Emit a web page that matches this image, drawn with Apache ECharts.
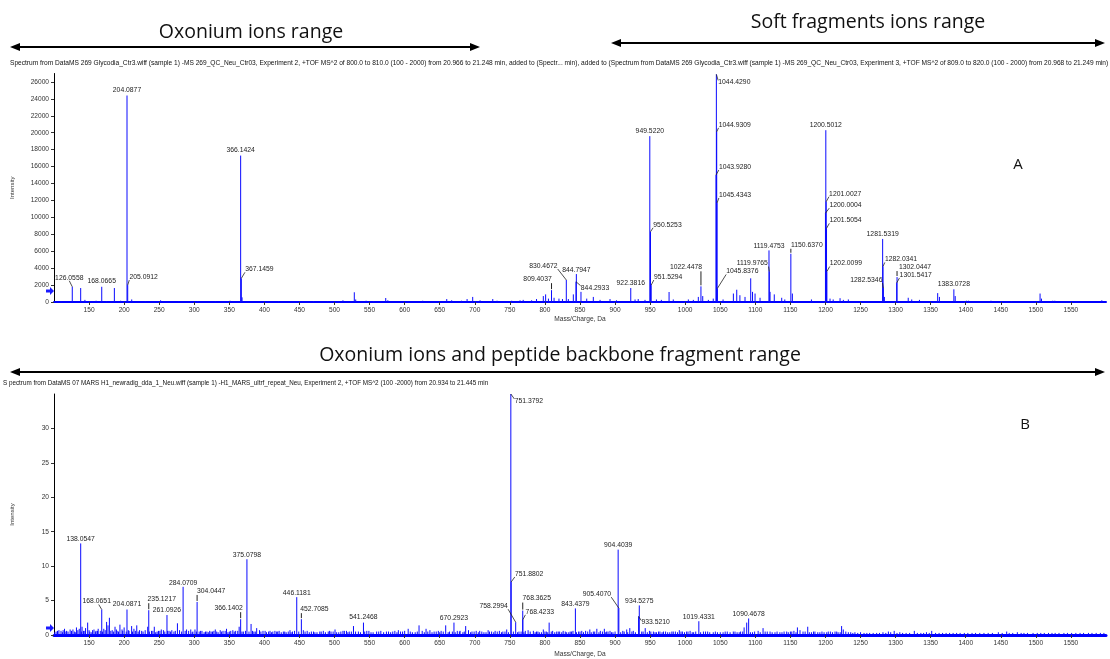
<!DOCTYPE html>
<html><head><meta charset="utf-8">
<script src="https://cdn.jsdelivr.net/npm/echarts@6/dist/echarts.min.js"></script>
<style>html,body{margin:0;padding:0;background:#fff}#c{width:1110px;height:659px}</style>
</head><body><div id="c"></div>
<script>
// ---------- DATA ----------
// Panel A: unlabeled peaks [m/z, intensity]
const topPeaks = [[110,100],[138.05,1650],[144.07,250],[160,150],[175,100],[186.08,1650],[195,150],[210.8,300],[230,100],[252,200],[278,100],[305,80],[330,100],[351,150],[368.15,550],[400,80],[420,100],[450,80],[470,100],[490,80],[512,200],[528.19,1150],[530.2,300],[545,150],[556,120],[573,470],[576,200],[625.7,150],[660,350],[667,200],[681,150],[689,350],[697,600],[707.5,200],[725.6,350],[731.7,150],[752.6,150],[764.5,200],[769,250],[781,200],[788,350],[797.7,700],[801,900],[805,400],[813,500],[820,400],[825,350],[833.4,350],[840.5,900],[851.4,1200],[859.6,400],[869,600],[878.6,250],[892.8,350],[902,200],[928.5,300],[933,350],[942.7,250],[959,300],[966,250],[977,1180],[983,300],[1004.5,300],[1011.6,250],[1018.7,600],[1025,700],[1033,250],[1040,400],[1054,300],[1068.7,1000],[1073.5,1450],[1078,800],[1085.3,600],[1093.4,2800],[1096,1200],[1099.6,1000],[1106.7,500],[1121,1200],[1127,900],[1137.6,500],[1142,300],[1152.8,1000],[1180,300],[1206.5,400],[1211,300],[1220.8,450],[1225.5,250],[1232.6,300],[1284,600],[1318,500],[1323,300],[1334,250],[1360,1050],[1362.5,600],[1385,700],[1401,150],[1404,150],[1436,150],[1465,100],[1506,1000],[1508,400],[1524,150],[1527,150],[1594,200]];
// Panel A: labeled peaks [m/z, intensity]
const topLabeled = [[126.0558,1800],[168.0665,1800],[204.0877,24400],[205.0912,2000],[366.1424,17300],[367.1459,2800],[809.4037,1400],[830.4672,2600],[844.2933,2400],[844.7947,3300],[922.3816,1650],[949.5220,19600],[950.5253,8300],[951.5294,2000],[1022.4478,1850],[1043.9280,15000],[1044.4290,26900],[1044.9309,20100],[1045.4343,11700],[1045.8376,1600],[1119.4753,6100],[1119.9765,3600],[1150.6370,5700],[1200.0004,10500],[1200.5012,20300],[1201.0027,11850],[1201.5054,8700],[1202.0099,3600],[1281.5319,7450],[1282.0341,4200],[1282.5346,1650],[1301.5417,2250],[1302.0447,2950],[1383.0728,1500]];

// Panel B: unlabeled peaks
const botPeaks = [[103,0.5],[107,0.7],[110,0.6],[112,0.4],[115,0.9],[118,0.6],[120,0.5],[123,0.8],[127,0.8],[129,0.5],[132,1.1],[134,0.7],[136,0.9],[140,1.2],[142,0.6],[145,1.0],[148,1.8],[151,0.5],[155,0.7],[157,0.8],[160,0.6],[163,0.9],[166,0.6],[171,0.9],[175,1.9],[177,1.4],[179,2.5],[183,0.7],[187,1.2],[190,0.6],[194,1.5],[197,0.8],[200,1.1],[207,0.6],[210.7,1.3],[214,0.9],[218,1.4],[222,0.7],[227,0.5],[233.6,1.2],[239,0.6],[243,1.2],[247,0.5],[251,0.6],[253,0.8],[256,0.7],[264,0.6],[268,0.7],[271,0.5],[276,1.7],[279,0.7],[289,0.8],[292,0.6],[295,0.8],[298,0.5],[301,0.8],[309,0.6],[314,0.4],[318,0.5],[322,0.6],[326,0.5],[330,0.8],[334,0.4],[337,0.7],[341,0.6],[346,0.9],[350,0.5],[355,0.7],[359,0.6],[364,1.2],[370,0.5],[381,1.6],[385,0.5],[389,1.0],[393,0.7],[398,0.6],[403,0.4],[408,0.6],[412,0.5],[417.5,0.5],[421,0.6],[427,0.5],[431,0.4],[436.5,0.7],[440,0.5],[455.5,0.7],[461,0.6],[467,0.5],[472,0.4],[479,0.5],[484,0.6],[491,0.5],[495,0.5],[500.7,0.8],[506,0.4],[512,0.6],[517,0.6],[521,0.5],[527,1.3],[534,0.5],[546,0.6],[552,0.4],[560,0.5],[566,0.6],[574,0.5],[580,0.4],[586,0.6],[591,0.7],[597,0.5],[605,0.9],[611,0.4],[620.5,1.4],[625,0.6],[630.5,0.9],[636,0.7],[642,0.5],[648,0.6],[652,0.6],[658.5,1.4],[664,0.5],[675,0.6],[679,0.6],[683,0.4],[687,1.3],[691,0.7],[696,0.5],[702,0.6],[707,0.6],[713,0.4],[719,0.7],[724,0.5],[729,0.6],[735,0.6],[740,0.5],[745.5,0.8],[763,0.5],[772,0.6],[776,0.7],[783.5,0.6],[788,0.5],[792,0.4],[797.7,0.8],[802,0.5],[806,1.8],[811,0.6],[816.8,0.5],[821,0.5],[826,0.6],[831,0.4],[836,0.5],[840,0.6],[848,0.5],[852.5,0.6],[858,0.6],[864,0.8],[869,0.5],[874,0.9],[879,0.6],[884.7,0.9],[888,0.5],[892.8,0.6],[897,0.4],[911,0.6],[916.6,0.8],[921,1.0],[926,0.6],[940,0.5],[943,1.0],[949,0.6],[954.6,0.5],[959,0.4],[964,0.5],[969,0.5],[975,0.4],[981,0.5],[986,0.5],[991.6,0.7],[996,0.5],[1002,0.5],[1007,0.6],[1012,0.4],[1026,0.5],[1032,0.5],[1040,0.4],[1046,0.4],[1054,0.4],[1060,0.5],[1068.6,0.5],[1074,0.4],[1079,0.5],[1084,1.1],[1087.7,1.8],[1096,0.4],[1104,0.6],[1111,1.0],[1117,0.5],[1121,0.5],[1128,0.4],[1135,0.4],[1144.7,0.5],[1150,0.5],[1155,0.6],[1160,1.1],[1163.7,0.7],[1168,0.5],[1174.7,1.2],[1180,0.4],[1185,0.5],[1192,0.4],[1201.8,0.4],[1207,0.5],[1213.6,0.5],[1218,0.4],[1223,1.3],[1225.4,0.8],[1232.6,0.4],[1242,0.4],[1255,0.3],[1263,0.3],[1273,0.3],[1282,0.4],[1289.7,0.5],[1298,0.6],[1306,0.4],[1315,0.3],[1326.7,0.6],[1336,0.3],[1344,0.4],[1351.5,0.6],[1362,0.3],[1372,0.3],[1387,0.3],[1398,0.3],[1409,0.3],[1420,0.3],[1432,0.3],[1446.5,0.4],[1458.4,0.5],[1467,0.3],[1473.6,0.4],[1488,0.3],[1496,0.3],[1512,0.3],[1527.5,0.3],[1540,0.3],[1551,0.3],[1563,0.3],[1575,0.3],[1586,0.3],[1597,0.3]];
// Panel B: low-level noise band
const botNoise = [[101,0.4],[105,0.6],[113,0.7],[117,0.5],[125,0.6],[131,0.4],[139,0.5],[144,0.6],[150,0.7],[153,0.4],[159,0.5],[162,0.6],[169,0.5],[173,0.7],[181,0.6],[185,0.5],[189,0.8],[192,0.5],[198,0.6],[203,0.5],[206,0.7],[212,0.5],[216,0.6],[220,0.5],[225,0.6],[230,0.7],[236,0.5],[241,0.6],[245,0.4],[249,0.6],[258,0.5],[262,0.6],[266,0.5],[273,0.6],[282,0.5],[287,0.6],[297,0.4],[303,0.5],[307,0.5],[311,0.6],[316,0.5],[320,0.4],[324,0.5],[328,0.6],[332,0.5],[339,0.5],[344,0.6],[348,0.4],[352,0.6],[357,0.5],[362,0.6],[368,0.5],[373,0.6],[378,0.5],[383,0.6],[387,0.5],[395,0.5],[401,0.6],[406,0.5],[410,0.4],[415,0.6],[419,0.5],[424,0.4],[429,0.5],[434,0.5],[438,0.4],[443,0.6],[449,0.5],[458,0.5],[464,0.4],[470,0.5],[475,0.4],[481,0.5],[487,0.4],[493,0.6],[498,0.5],[503,0.4],[509,0.5],[514,0.6],[519,0.4],[524,0.5],[530,0.5],[537,0.4],[543,0.5],[549,0.6],[555,0.4],[563,0.5],[570,0.4],[577,0.5],[583,0.5],[589,0.4],[594,0.5],[600,0.6],[608,0.5],[615,0.4],[618,0.5],[628,0.4],[633,0.5],[639,0.4],[645,0.5],[650,0.4],[655,0.5],[662,0.4],[668,0.5],[672,0.4],[678,0.5],[685,0.5],[694,0.4],[699,0.5],[705,0.4],[710,0.5],[716,0.4],[721,0.5],[727,0.4],[732,0.5],[738,0.4],[743,0.5],[748,0.4],[755,0.5],[761,0.4],[766,0.5],[770,0.4],[779,0.5],[786,0.4],[790,0.5],[795,0.4],[800,0.5],[804,0.4],[809,0.5],[814,0.4],[819,0.5],[824,0.4],[829,0.5],[834,0.4],[838,0.5],[845,0.4],[850,0.5],[855,0.4],[861,0.5],[866,0.4],[871,0.5],[877,0.4],[882,0.5],[886,0.4],[890,0.5],[895,0.4],[900,0.5],[908,0.4],[913,0.5],[918,0.4],[924,0.5],[929,0.4],[938,0.5],[946,0.4],[951,0.5],[957,0.4],[962,0.5],[967,0.4],[972,0.5],[978,0.4],[983,0.5],[989,0.4],[994,0.5],[999,0.4],[1004,0.5],[1010,0.4],[1015,0.5],[1022,0.4],[1029,0.5],[1035,0.4],[1043,0.5],[1050,0.4],[1057,0.5],[1064,0.4],[1071,0.5],[1077,0.4],[1082,0.5],[1093,0.4],[1099,0.5],[1107,0.4],[1114,0.5],[1124,0.4],[1131,0.5],[1138,0.4],[1141,0.5],[1147,0.4],[1152,0.5],[1158,0.4],[1171,0.5],[1177,0.4],[1183,0.5],[1189,0.4],[1195,0.5],[1198,0.4],[1204,0.5],[1210,0.4],[1216,0.5],[1221,0.4],[1229,0.5],[1236,0.4],[1239,0.3],[1246,0.3],[1250,0.4],[1259,0.3],[1268,0.3],[1277,0.3],[1286,0.3],[1293,0.4],[1302,0.3],[1310,0.3],[1320,0.3],[1331,0.3],[1340,0.3],[1348,0.3],[1357,0.3],[1367,0.3],[1377,0.3],[1382,0.3],[1392,0.3],[1403,0.3],[1414,0.3],[1426,0.3],[1438,0.3],[1452,0.3],[1462,0.3],[1479,0.3],[1483,0.3],[1502,0.3],[1507,0.3],[1518,0.3],[1523,0.3],[1533,0.3],[1545,0.3],[1557,0.3],[1568,0.3],[1580,0.3],[1592,0.3]];
// Panel B: labeled peaks
const botLabeled = [[138.0547,13.3],[168.0651,3.7],[204.0871,3.7],[235.1217,3.6],[261.0926,2.9],[284.0709,7.0],[304.0447,4.8],[366.1402,2.3],[375.0798,11.0],[446.1181,5.5],[452.7085,2.3],[541.2468,1.8],[670.2923,1.8],[751.3792,35],[751.8802,7.7],[758.2994,1.86],[768.3625,3.55],[768.4233,2.2],[843.4379,3.86],[904.4039,12.4],[905.4070,3.9],[933.5210,2.7],[934.5275,4.3],[1019.4331,2.0],[1090.4678,2.4]];

// ---------- LABEL LAYOUT (offsets of label centre from peak top, px; a=above, d=leader, v=tick) ----------
const topLabelLayout = [[-3,-9,'d'],[0,-6,'a'],[0,-5,'a'],[16,-8,'d'],[0,-5,'a'],[18,-9,'d'],[-14,-11,'v'],[-23,-14,'d'],[19,6,'d'],[0,-4,'a'],[0,-5,'a'],[0,-5,'a'],[17,-7,'d'],[17,-8,'d'],[-15,-19,'v'],[19,-8,'d'],[18,8,'d'],[18,-7,'d'],[18,-8,'d'],[25,-17,'d'],[0,-4,'a'],[-17,-8,'d'],[16,-9,'v'],[20,-8,'d'],[0,-5,'a'],[19,-8,'d'],[19,-8,'d'],[19,-8,'d'],[0,-5,'a'],[18,-7,'d'],[-17,-8,'d'],[19,-8,'d'],[18,-10,'v'],[0,-5,'a']];
const botLabelLayout = [[0,-4,'a'],[-5,-8,'d'],[0,-5,'a'],[13,-11,'v'],[0,-5,'a'],[0,-4,'a'],[14,-11,'v'],[-12,-11,'v'],[0,-4,'a'],[0,-4,'a'],[13,-10,'v'],[0,-5,'a'],[0,-4,'a'],[18,7,'d'],[18,-8,'d'],[-22,-16,'d'],[14,-12,'v'],[17,-8,'d'],[0,-4,'a'],[0,-4,'a'],[-22,-14,'d'],[17,6,'d'],[0,-4,'a'],[0,-4,'a'],[0,-4,'a']];

const topHeader = 'Spectrum from DataMS 269 Glycodia_Ctr3.wiff (sample 1) -MS 269_QC_Neu_Ctr03, Experiment 2, +TOF MS^2 of 800.0 to 810.0 (100 - 2000) from 20.966 to 21.248 min, added to (Spectr... min), added to (Spectrum from DataMS 269 Glycodia_Ctr3.wiff (sample 1) -MS 269_QC_Neu_Ctr03, Experiment 3, +TOF MS^2 of 809.0 to 820.0 (100 - 2000) from 20.968 to 21.249 min)';
const botHeader = 'S pectrum from DataMS 07 MARS H1_newradig_dda_1_Neu.wiff (sample 1) -H1_MARS_ultrf_repeat_Neu, Experiment 2, +TOF MS^2 (100 -2000) from 20.934 to 21.445 min';

// ---------- RENDER ----------
const PEAK = '#0a0aff';
const LBL_FONT = '6.8px "Liberation Sans", Arial, sans-serif';
function peakItem(params, api) {
  const p0 = api.coord([api.value(0), 0]);
  const p1 = api.coord([api.value(0), api.value(1)]);
  return { type: 'line', shape: { x1: p0[0], y1: p0[1], x2: p1[0], y2: p1[1] },
           style: { stroke: PEAK, lineWidth: 1 } };
}
function labelItem(layout) {
  return function (params, api) {
    const mz = api.value(0), I = api.value(1);
    const p = api.coord([mz, I]);
    const L = layout[params.dataIndex];
    const txt = mz.toFixed(4);
    const w = txt.length * 3.6;
    const lx = p[0] + L[0], ly = p[1] + L[1];
    const ch = [{ type: 'text', style: { text: txt, x: lx, y: ly, align: 'center', verticalAlign: 'middle',
                  textAlign: 'center', textVerticalAlign: 'middle', fill: '#222', font: LBL_FONT } }];
    if (L[2] === 'd') {
      let ex;
      if (L[0] > 0 && lx - w / 2 >= p[0] - 1) ex = lx - w / 2;
      else if (L[0] < 0 && lx + w / 2 <= p[0] + 1) ex = lx + w / 2;
      else ex = p[0] - 3;
      const ey = L[1] < 0 ? ly + 3 : ly - 2;
      ch.push({ type: 'line', shape: { x1: p[0], y1: p[1], x2: ex, y2: ey }, style: { stroke: '#222', lineWidth: 0.8 } });
    } else if (L[2] === 'v') {
      ch.push({ type: 'line', shape: { x1: p[0], y1: ly + 4, x2: p[0], y2: p[1] - 1 }, style: { stroke: '#222', lineWidth: 1 } });
    }
    return { type: 'group', children: ch };
  };
}
function arrow(x1, x2, y) {
  return [
    { type: 'line', shape: { x1: x1 + 6, y1: y, x2: x2 - 6, y2: y }, style: { stroke: '#000', lineWidth: 2 } },
    { type: 'polygon', shape: { points: [[x1, y], [x1 + 10, y - 4], [x1 + 10, y + 4]] }, style: { fill: '#000' } },
    { type: 'polygon', shape: { points: [[x2, y], [x2 - 10, y - 4], [x2 - 10, y + 4]] }, style: { fill: '#000' } }
  ];
}
function txt(x, y, t, font, align) {
  return { type: 'text', x: x, y: y, style: { text: t, font: font, fill: '#111',
           align: align || 'center', textAlign: align || 'center', verticalAlign: 'middle', textVerticalAlign: 'middle' } };
}
function marker(x, y) {
  return { type: 'polygon', shape: { points: [[x - 4, y - 1.5], [x, y - 1.5], [x, y - 4], [x + 4, y], [x, y + 4], [x, y + 1.5], [x - 4, y + 1.5]] },
           style: { fill: '#1a1aff' } };
}
const TITLE_FONT = '19.5px "Open Sans", "Noto Sans", sans-serif';
const HDR_FONT_TOP = '6.6px "Liberation Sans", Arial, sans-serif';
const HDR_FONT_BOT = '6.3px "Liberation Sans", Arial, sans-serif';
const axisLbl = { fontSize: 6.6, color: '#333', fontFamily: 'Liberation Sans', formatter: function (v) { return String(v); } };

function xAxisCfg(idx, gap) {
  return { gridIndex: idx, type: 'value', min: 100, max: 1600, interval: 50,
    name: 'Mass/Charge, Da', nameLocation: 'middle', nameGap: gap,
    nameTextStyle: { fontSize: 6.6, color: '#333', fontFamily: 'Liberation Sans' },
    axisLine: { lineStyle: { color: '#0000ff', width: idx === 0 ? 2 : 3 } },
    axisTick: { show: true, length: 3, lineStyle: { color: '#333' } },
    axisLabel: Object.assign({ showMinLabel: false, showMaxLabel: false, margin: 5 }, axisLbl),
    splitLine: { show: false } };
}
function yAxisCfg(idx, max, interval) {
  return { gridIndex: idx, type: 'value', min: 0, max: max, interval: interval,
    name: 'Intensity', nameLocation: 'middle', nameGap: 39, nameRotate: 90,
    nameTextStyle: { fontSize: 6, color: '#333', fontFamily: 'Liberation Sans' },
    axisLine: { show: true, lineStyle: { color: '#000', width: 1 } },
    axisTick: { show: true, length: 3, lineStyle: { color: '#333' } },
    axisLabel: Object.assign({ showMaxLabel: false, margin: 5 }, axisLbl),
    splitLine: { show: false } };
}

const chart = echarts.init(document.getElementById('c'), null, { renderer: 'canvas' });
chart.setOption({
  animation: false,
  backgroundColor: '#fff',
  grid: [{ left: 54, right: 4, top: 73.5, height: 228.5 }, { left: 54, right: 4, top: 394, height: 245 }],
  xAxis: [xAxisCfg(0, 14), xAxisCfg(1, 16)],
  yAxis: [yAxisCfg(0, 27000, 2000), yAxisCfg(1, 35, 5)],
  series: [
    { type: 'custom', xAxisIndex: 0, yAxisIndex: 0, renderItem: peakItem, data: topPeaks.concat(topLabeled), silent: true },
    { type: 'custom', xAxisIndex: 0, yAxisIndex: 0, renderItem: labelItem(topLabelLayout), data: topLabeled, clip: false, silent: true, z: 3 },
    { type: 'custom', xAxisIndex: 1, yAxisIndex: 1, renderItem: peakItem, data: botNoise.concat(botPeaks, botLabeled), silent: true },
    { type: 'custom', xAxisIndex: 1, yAxisIndex: 1, renderItem: labelItem(botLabelLayout), data: botLabeled, clip: false, silent: true, z: 3 }
  ],
  graphic: [].concat(
    arrow(10, 480, 47), arrow(611, 1105, 43), arrow(10, 1105, 372),
    [
      txt(251, 32, 'Oxonium ions range', TITLE_FONT),
      txt(868, 22, 'Soft fragments ions range', TITLE_FONT),
      txt(560, 355, 'Oxonium ions and peptide backbone fragment range', TITLE_FONT),
      txt(10, 63, topHeader, HDR_FONT_TOP, 'left'),
      txt(3, 383, botHeader, HDR_FONT_BOT, 'left'),
      txt(1018, 165, 'A', '15px "Open Sans", sans-serif'),
      txt(1025, 425, 'B', '15px "Open Sans", sans-serif'),
      marker(50, 291), marker(50, 628)
    ])
});
</script>
</body></html>
